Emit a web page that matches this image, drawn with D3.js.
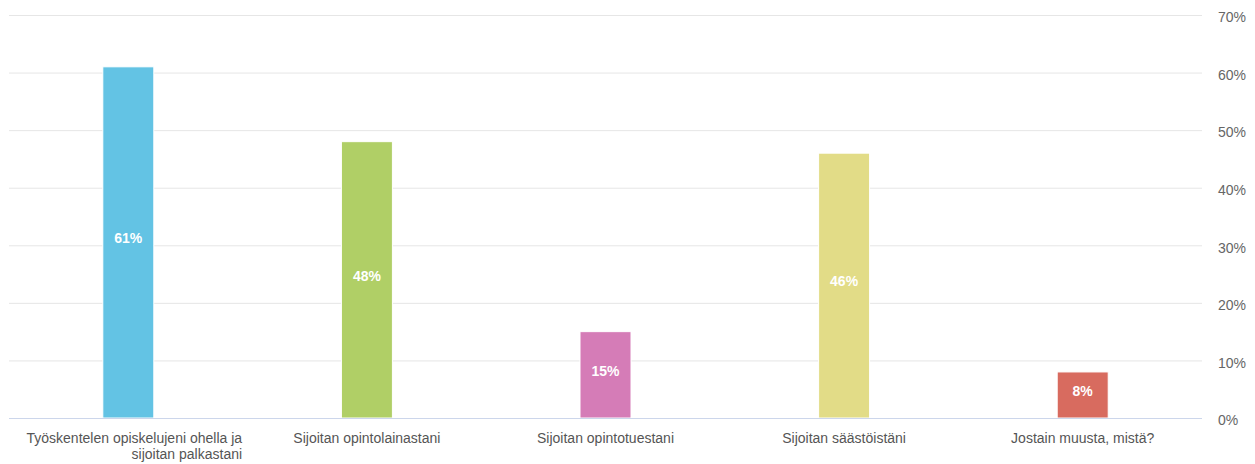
<!DOCTYPE html>
<html><head><meta charset="utf-8">
<script src="https://cdn.jsdelivr.net/npm/d3@7/dist/d3.min.js"></script>
<style>body{margin:0;background:#fff;}svg{display:block;font-family:"Liberation Sans",Arial,Helvetica,sans-serif;}</style>
</head><body>
<svg id="c" width="1255" height="464"></svg>
<script>
const categories = [
  ["Työskentelen opiskelujeni ohella ja", "sijoitan palkastani"],
  ["Sijoitan opintolainastani"],
  ["Sijoitan opintotuestani"],
  ["Sijoitan säästöistäni"],
  ["Jostain muusta, mistä?"]
];
const values = [61, 48, 15, 46, 8];
const colors = ["#63c3e4", "#b0cf66", "#d57cb7", "#e2dc87", "#d86b5f"];
const yTicks = [0, 10, 20, 30, 40, 50, 60, 70];

const svg = d3.select("#c");
const mLeft = 9, mRight = 1202, mTop = 15, mBottom = 418;
const x = d3.scaleBand().domain(d3.range(values.length)).range([mLeft, mRight]).paddingInner(0).paddingOuter(0);
const y = d3.scaleLinear().domain([0, 70]).range([mBottom, mTop]);

// gridlines
svg.append("g").selectAll("line").data(yTicks.filter(t => t > 0)).join("line")
  .attr("x1", mLeft).attr("x2", mRight)
  .attr("y1", d => y(d) + 0.5).attr("y2", d => y(d) + 0.5)
  .attr("stroke", "#e6e6e6").attr("stroke-width", 1);

// right axis
const yAxis = d3.axisRight(y).tickValues(yTicks).tickFormat(d => d + "%").tickSize(0).tickPadding(0);
const ga = svg.append("g").attr("transform", `translate(1218,0)`).call(yAxis);
ga.select(".domain").remove();
ga.selectAll("text").attr("fill", "#666").style("font-size", "14px").attr("dy", "0.48em").attr("x", 0);

// bars
const bw = 51;
svg.append("g").selectAll("rect").data(values).join("rect")
  .attr("x", (d, i) => x(i) + x.bandwidth() / 2 - bw / 2)
  .attr("width", bw)
  .attr("y", d => y(d))
  .attr("height", d => y(0) - y(d))
  .attr("fill", (d, i) => colors[i])
  .attr("stroke", "#fff").attr("stroke-width", 1);

// baseline
svg.append("line").attr("x1", mLeft).attr("x2", mRight)
  .attr("y1", y(0) + 0.5).attr("y2", y(0) + 0.5)
  .attr("stroke", "#ccd6eb").attr("stroke-width", 1);

// data labels
svg.append("g").selectAll("text").data(values).join("text")
  .attr("x", (d, i) => x(i) + x.bandwidth() / 2)
  .attr("y", d => (y(d) + y(0)) / 2 - 4)
  .attr("dy", "0.35em")
  .attr("text-anchor", "middle")
  .attr("fill", "#fff").style("font-size", "14px").style("font-weight", "bold")
  .text(d => d + "%");

// category labels
const cg = svg.append("g");
categories.forEach((lines, i) => {
  const cx = x(i) + x.bandwidth() / 2;
  const t = cg.append("text").attr("fill", "#555").style("font-size", "14px");
  if (lines.length === 1) {
    t.attr("text-anchor", "middle").attr("x", cx).attr("y", 443).text(lines[0]);
  } else {
    const tmp = lines.map((l, j) => t.append("tspan").attr("y", 443 + j * 16).text(l));
    const w = d3.max(tmp, s => s.node().getComputedTextLength());
    t.attr("text-anchor", "end");
    tmp.forEach(s => s.attr("x", cx + w / 2 + 6));
  }
});
</script>
</body></html>
